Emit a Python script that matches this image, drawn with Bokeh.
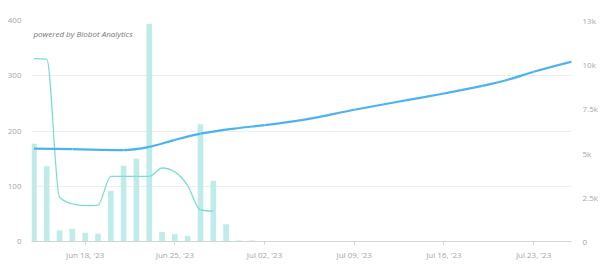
import calendar
import datetime as dt
import numpy as np
from bokeh.plotting import figure
from bokeh.models import (Range1d, LinearAxis, FixedTicker, DatetimeTickFormatter,
                          Label, ColumnDataSource)
from bokeh.embed import file_html
from bokeh.resources import INLINE

# ---------------- data ----------------
bar_dates = ["2023-06-14", "2023-06-15", "2023-06-16", "2023-06-17", "2023-06-18",
             "2023-06-19", "2023-06-20", "2023-06-21", "2023-06-22", "2023-06-23",
             "2023-06-24", "2023-06-25", "2023-06-26", "2023-06-27", "2023-06-28",
             "2023-06-29", "2023-06-30", "2023-07-01"]
bar_values = [177, 136, 20, 23, 16, 14, 92, 137, 150, 394, 17, 13, 10, 212, 110, 31, 2, 2]

teal_dates = ["2023-06-14", "2023-06-15", "2023-06-16", "2023-06-17", "2023-06-18",
              "2023-06-19", "2023-06-20", "2023-06-21", "2023-06-22", "2023-06-23",
              "2023-06-24", "2023-06-25", "2023-06-26", "2023-06-27", "2023-06-28"]
teal_values = [331, 330, 80, 68, 65, 66, 118, 118, 118, 118, 133, 126, 101, 57, 55]

blue_dates = ["2023-06-14", "2023-06-17", "2023-06-21", "2023-06-23", "2023-06-25",
              "2023-06-27", "2023-06-30", "2023-07-02", "2023-07-05", "2023-07-09",
              "2023-07-13", "2023-07-16", "2023-07-19", "2023-07-21", "2023-07-23",
              "2023-07-26"]
blue_values = [5250, 5220, 5170, 5350, 5750, 6100, 6420, 6580, 6880, 7450,
               7980, 8370, 8800, 9150, 9600, 10180]

x_tick_dates = ["2023-06-18", "2023-06-25", "2023-07-02", "2023-07-09",
                "2023-07-16", "2023-07-23"]
left_ticks = [0, 100, 200, 300, 400]
right_ticks = [0, 2500, 5000, 7500, 10000, 12500]
right_labels = ["0", "2.5k", "5k", "7.5k", "10k", "13k"]

DAY = 86400000.0


def ms(s):
    d = dt.datetime.strptime(s, "%Y-%m-%d")
    return calendar.timegm(d.timetuple()) * 1000.0


def monotone_bezier(xs, ys):
    """Control points of a monotone cubic (like d3.curveMonotoneX) through the data."""
    xs = np.asarray(xs, float)
    ys = np.asarray(ys, float)
    n = len(xs)
    h = np.diff(xs)
    s = np.diff(ys) / h
    m = np.zeros(n)
    for i in range(1, n - 1):
        if s[i - 1] * s[i] <= 0:
            m[i] = 0.0
        else:
            p = (s[i - 1] * h[i] + s[i] * h[i - 1]) / (h[i - 1] + h[i])
            m[i] = (np.sign(s[i - 1]) + np.sign(s[i])) * min(abs(s[i - 1]), abs(s[i]), 0.5 * abs(p))
    m[0] = (3 * s[0] - m[1]) / 2
    m[-1] = (3 * s[-1] - m[-2]) / 2
    return dict(
        x0=xs[:-1], y0=ys[:-1], x1=xs[1:], y1=ys[1:],
        cx0=xs[:-1] + h / 3, cy0=ys[:-1] + m[:-1] * h / 3,
        cx1=xs[1:] - h / 3, cy1=ys[1:] - m[1:] * h / 3,
    )


# ---------------- figure ----------------
start = ms("2023-06-14")
p = figure(width=600, height=268, output_backend="svg", toolbar_location=None,
           x_axis_type="datetime",
           x_range=Range1d(start - 0.19 * DAY, start + 41.96 * DAY),
           y_range=Range1d(0, 400),
           min_border_left=31, min_border_right=27, min_border_top=20, min_border_bottom=27)
p.outline_line_color = None
p.background_fill_color = "white"
p.border_fill_color = "white"

p.extra_y_ranges = {"right": Range1d(0, 12500)}

FONT = "Open Sans"
LABEL_COLOR = "#a6a6a6"

# left axis
p.yaxis.ticker = FixedTicker(ticks=left_ticks)
p.yaxis.axis_line_color = None
p.yaxis.major_tick_line_color = None
p.yaxis.minor_tick_line_color = None
p.yaxis.major_label_text_font = FONT
p.yaxis.major_label_text_font_size = "8px"
p.yaxis.major_label_text_color = LABEL_COLOR
p.yaxis.major_label_standoff = 4

# right axis
rax = LinearAxis(y_range_name="right", ticker=FixedTicker(ticks=right_ticks),
                 major_label_overrides={t: l for t, l in zip(right_ticks, right_labels)})
rax.axis_line_color = None
rax.major_tick_line_color = None
rax.minor_tick_line_color = None
rax.major_label_text_font = FONT
rax.major_label_text_font_size = "8px"
rax.major_label_text_color = LABEL_COLOR
rax.major_label_standoff = 5
p.add_layout(rax, "right")

# x axis
p.xaxis.ticker = FixedTicker(ticks=[ms(d) for d in x_tick_dates])
fmt = "%b %d, '%y"
p.xaxis.formatter = DatetimeTickFormatter(days=fmt, months=fmt, years=fmt, hours=fmt,
                                          hourmin=fmt, minutes=fmt, minsec=fmt,
                                          seconds=fmt, milliseconds=fmt, microseconds=fmt)
p.xaxis.axis_line_color = "#d4d4d4"
p.xaxis.major_tick_line_color = "#d4d4d4"
p.xaxis.major_tick_in = 0
p.xaxis.major_tick_out = 3
p.xaxis.minor_tick_line_color = None
p.xaxis.major_label_text_font = FONT
p.xaxis.major_label_text_font_size = "8px"
p.xaxis.major_label_text_color = LABEL_COLOR
p.xaxis.major_label_standoff = 4

# grid
p.xgrid.grid_line_color = None
p.ygrid.ticker = FixedTicker(ticks=[t for t in left_ticks if t > 0])
p.ygrid.grid_line_color = "#eeeeee"
p.ygrid.grid_line_width = 1

# bars
bsrc = ColumnDataSource(dict(x=[ms(d) for d in bar_dates], top=bar_values))
p.vbar(x="x", top="top", width=0.44 * DAY, bottom=0, source=bsrc,
       fill_color="#bfece8", line_color=None)

# teal line (left axis)
tsrc = ColumnDataSource(monotone_bezier([ms(d) for d in teal_dates], teal_values))
p.bezier(x0="x0", y0="y0", x1="x1", y1="y1", cx0="cx0", cy0="cy0", cx1="cx1", cy1="cy1",
         source=tsrc, line_color="#7ddcd2", line_width=1.3)

# blue line (right axis)
blsrc = ColumnDataSource(monotone_bezier([ms(d) for d in blue_dates], blue_values))
p.bezier(x0="x0", y0="y0", x1="x1", y1="y1", cx0="cx0", cy0="cy0", cx1="cx1", cy1="cy1",
         source=blsrc, line_color="#4db3ef", line_width=2.2, y_range_name="right")

# watermark text
p.add_layout(Label(x=start - 0.04 * DAY, y=376, text="powered by Biobot Analytics",
                   text_font=FONT, text_font_style="italic", text_font_size="8px",
                   text_color="#777777", text_baseline="middle", text_align="left"))

open("out.html", "w").write(file_html(p, INLINE))
